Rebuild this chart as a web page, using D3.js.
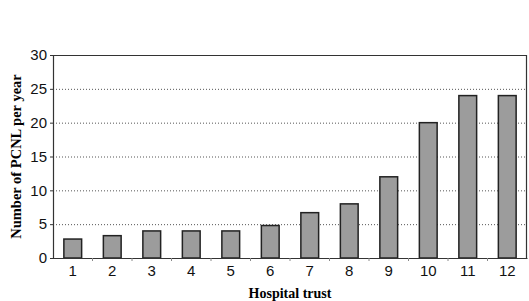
<!DOCTYPE html>
<html>
<head>
<meta charset="utf-8">
<script src="https://cdn.jsdelivr.net/npm/d3@7"></script>
<style>
  body { margin: 0; background: #fff; }
</style>
</head>
<body>
<script>
const trusts = ["1", "2", "3", "4", "5", "6", "7", "8", "9", "10", "11", "12"];
const pcnl = [2.8, 3.3, 4, 4, 4, 4.8, 6.7, 8, 12, 20, 24, 24];
const yTicks = [0, 5, 10, 15, 20, 25, 30];

const width = 529;
const height = 301;
const margin = { top: 55, right: 2, bottom: 43, left: 53 };

const svg = d3
  .select("body")
  .append("svg")
  .attr("width", width)
  .attr("height", height);

const x = d3
  .scaleBand()
  .domain(trusts)
  .range([margin.left, width - margin.right])
  .paddingInner(0.55)
  .paddingOuter(0.275);

const y = d3
  .scaleLinear()
  .domain([0, 30])
  .range([height - margin.bottom, margin.top]);

// dotted gridlines
svg
  .append("g")
  .selectAll("line")
  .data(yTicks.filter((d) => d > 0 && d < 30))
  .join("line")
  .attr("x1", margin.left)
  .attr("x2", width - margin.right)
  .attr("y1", (d) => y(d) + 0.5)
  .attr("y2", (d) => y(d) + 0.5)
  .attr("stroke", "#555")
  .attr("stroke-width", 1)
  .attr("stroke-dasharray", "1,2");

// frame top and right
svg
  .append("path")
  .attr("d", `M${margin.left},${y(30) + 0.5}H${width - margin.right - 0.5}V${y(0)}`)
  .attr("fill", "none")
  .attr("stroke", "#333")
  .attr("stroke-width", 1.2);

// bars
svg
  .append("g")
  .selectAll("rect")
  .data(pcnl)
  .join("rect")
  .attr("x", (d, i) => x(trusts[i]))
  .attr("y", (d) => y(d))
  .attr("width", x.bandwidth())
  .attr("height", (d) => y(0) - y(d))
  .attr("fill", "#9c9c9c")
  .attr("stroke", "#222")
  .attr("stroke-width", 1.5);

// y axis
const yAxis = svg
  .append("g")
  .attr("transform", `translate(${margin.left},0)`)
  .call(d3.axisLeft(y).tickValues(yTicks).tickSize(3).tickPadding(3));
yAxis.select(".domain").attr("stroke", "#333").attr("stroke-width", 1.2);
yAxis.selectAll(".tick line").attr("stroke", "#333");
yAxis
  .selectAll(".tick text")
  .attr("font-family", "Liberation Sans, Arial, sans-serif")
  .attr("font-size", 15)
  .attr("fill", "#111");

// x axis with ticks at band boundaries
const xAxis = svg
  .append("g")
  .attr("transform", `translate(0,${y(0)})`)
  .call(d3.axisBottom(x).tickSize(0).tickPadding(7));
xAxis.select(".domain").attr("stroke", "#333").attr("stroke-width", 1.2);
xAxis
  .selectAll(".tick text")
  .attr("font-family", "Liberation Sans, Arial, sans-serif")
  .attr("font-size", 15)
  .attr("fill", "#111");
const bandW = (width - margin.right - margin.left) / trusts.length;
xAxis
  .selectAll(".bound")
  .data(d3.range(1, trusts.length))
  .join("line")
  .attr("class", "bound")
  .attr("x1", (d) => margin.left + d * bandW)
  .attr("x2", (d) => margin.left + d * bandW)
  .attr("y1", 0)
  .attr("y2", 3)
  .attr("stroke", "#888");

// axis titles
svg
  .append("text")
  .attr("x", (margin.left + width - margin.right) / 2)
  .attr("y", 298)
  .attr("text-anchor", "middle")
  .attr("font-family", "Liberation Serif, Times New Roman, serif")
  .attr("font-weight", "bold")
  .attr("font-size", 14)
  .text("Hospital trust");

svg
  .append("text")
  .attr("transform", `translate(21,${(y(0) + y(30)) / 2}) rotate(-90)`)
  .attr("text-anchor", "middle")
  .attr("font-family", "Liberation Serif, Times New Roman, serif")
  .attr("font-weight", "bold")
  .attr("font-size", 14.5)
  .text("Number of PCNL per year");
</script>
</body>
</html>
